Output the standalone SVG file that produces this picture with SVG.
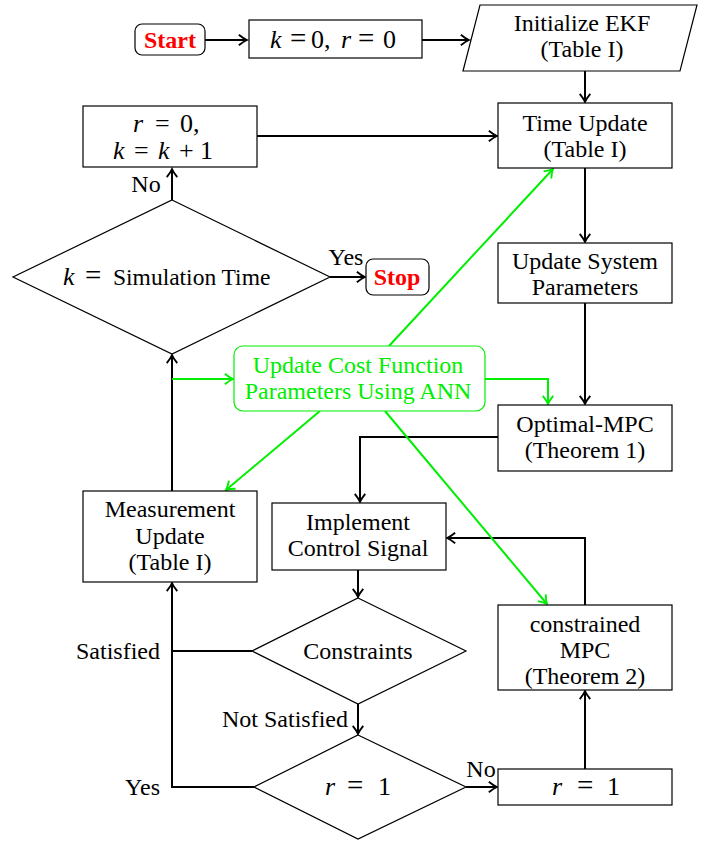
<svg xmlns="http://www.w3.org/2000/svg" width="715" height="842" viewBox="0 0 715 842">
<style>
.box{fill:#fff;stroke:#000;stroke-width:1.2}
.gbox{fill:#fff;stroke:#00ee00;stroke-width:1.2}
text{font-family:"Liberation Serif","Times New Roman",serif;font-size:24px;text-anchor:middle;fill:#000}
.mt{font-size:26px;text-anchor:start}
.m{font-style:italic}
.eq{font-size:29px}
.red{fill:#ff0000;font-weight:bold}
.grn{fill:#00ee00}
.lbl{text-anchor:end}
.c{fill:none;stroke:#000;stroke-width:2}
.g{fill:none;stroke:#00ee00;stroke-width:2}
</style>
<defs>
<marker id="ab" markerUnits="userSpaceOnUse" markerWidth="14" markerHeight="14" viewBox="-8 -6 10 12" refX="0" refY="0" orient="auto" overflow="visible">
<path d="M -7 -4.5 Q -3 -1.2 0 0 Q -3 1.2 -7 4.5" fill="none" stroke="#000" stroke-width="1.6"/>
</marker>
<marker id="ag" markerUnits="userSpaceOnUse" markerWidth="14" markerHeight="14" viewBox="-8 -6 10 12" refX="0" refY="0" orient="auto" overflow="visible">
<path d="M -7 -4.5 Q -3 -1.2 0 0 Q -3 1.2 -7 4.5" fill="none" stroke="#00ee00" stroke-width="1.6"/>
</marker>
</defs>
<rect width="715" height="842" fill="#fff"/>

<g id="connectors">
<line class="c" x1="205" y1="40" x2="247" y2="40" marker-end="url(#ab)"/>
<line class="c" x1="422" y1="40" x2="469" y2="40" marker-end="url(#ab)"/>
<line class="c" x1="585" y1="71" x2="585" y2="102" marker-end="url(#ab)"/>
<line class="c" x1="585" y1="168" x2="585" y2="242" marker-end="url(#ab)"/>
<line class="c" x1="585" y1="303" x2="585" y2="404" marker-end="url(#ab)"/>
<line class="c" x1="257" y1="136" x2="497" y2="136" marker-end="url(#ab)"/>
<line class="c" x1="172" y1="200" x2="172" y2="169" marker-end="url(#ab)"/>
<line class="c" x1="330" y1="277" x2="365" y2="277" marker-end="url(#ab)"/>
<line class="c" x1="172" y1="491" x2="172" y2="355" marker-end="url(#ab)"/>
<polyline class="c" points="498,437 360,437 360,502" marker-end="url(#ab)"/>
<line class="c" x1="358" y1="570" x2="358" y2="597" marker-end="url(#ab)"/>
<line class="c" x1="358" y1="704" x2="358" y2="734" marker-end="url(#ab)"/>
<line class="c" x1="466" y1="787" x2="497" y2="787" marker-end="url(#ab)"/>
<line class="c" x1="585" y1="769" x2="585" y2="691" marker-end="url(#ab)"/>
<polyline class="c" points="585,605 585,538 447,538" marker-end="url(#ab)"/>
<polyline class="c" points="252,651 172,651 172,583" marker-end="url(#ab)"/>
<polyline class="c" points="254,787 172,787 172,651"/>
<line class="g" x1="172" y1="379" x2="233" y2="379" marker-end="url(#ag)"/>
<polyline class="g" points="485,379 548,379 548,404" marker-end="url(#ag)"/>
<line class="g" x1="389" y1="346" x2="553" y2="169" marker-end="url(#ag)"/>
<line class="g" x1="320" y1="411" x2="226" y2="490" marker-end="url(#ag)"/>
<line class="g" x1="385" y1="411" x2="547" y2="604" marker-end="url(#ag)"/>
<text x="346" y="265">Yes</text>
<text x="146" y="192">No</text>
<text class="lbl" x="160" y="659">Satisfied</text>
<text class="lbl" x="348" y="727">Not Satisfied</text>
<text class="lbl" x="160" y="795">Yes</text>
<text x="481" y="777">No</text>
</g>

<g id="start">
<rect class="box" x="135" y="24" width="70" height="31" rx="7"/>
<text class="red" x="170" y="48">Start</text>
</g>
<g id="init">
<rect class="box" x="249" y="20" width="173" height="38"/>
<text class="mt" y="48"><tspan class="m" x="270">k</tspan><tspan class="eq" x="290">=</tspan><tspan x="311">0,</tspan><tspan class="m" x="341">r</tspan><tspan class="eq" x="358">=</tspan><tspan x="383">0</tspan></text>
</g>
<g id="ekf">
<polygon class="box" points="480,5 697,5 680,71 463,71"/>
<text x="582" y="31">Initialize EKF</text>
<text x="582" y="57">(Table I)</text>
</g>
<g id="timeupdate">
<rect class="box" x="498" y="103" width="174" height="65"/>
<text x="585" y="131">Time Update</text>
<text x="585" y="157">(Table I)</text>
</g>
<g id="sysparams">
<rect class="box" x="498" y="243" width="174" height="60"/>
<text x="585" y="269">Update System</text>
<text x="585" y="295">Parameters</text>
</g>
<g id="optmpc">
<rect class="box" x="498" y="405" width="174" height="66"/>
<text x="585" y="432">Optimal-MPC</text>
<text x="585" y="458">(Theorem 1)</text>
</g>
<g id="implement">
<rect class="box" x="272" y="503" width="174" height="67"/>
<text x="358" y="530">Implement</text>
<text x="358" y="556">Control Signal</text>
</g>
<g id="constraints">
<polygon class="box" points="358,598 466,651 358,704 252,651"/>
<text x="358" y="659">Constraints</text>
</g>
<g id="rdecision">
<polygon class="box" points="358,735 466,787 358,839 254,787"/>
<text class="mt" y="795"><tspan class="m" x="325">r</tspan><tspan class="eq" x="347">=</tspan><tspan x="378">1</tspan></text>
</g>
<g id="rset">
<rect class="box" x="498" y="769" width="174" height="36"/>
<text class="mt" y="795"><tspan class="m" x="552">r</tspan><tspan class="eq" x="577">=</tspan><tspan x="607">1</tspan></text>
</g>
<g id="cmpc">
<rect class="box" x="498" y="605" width="174" height="85"/>
<text x="585" y="632">constrained</text>
<text x="585" y="658">MPC</text>
<text x="585" y="684">(Theorem 2)</text>
</g>
<g id="measurement">
<rect class="box" x="83" y="491" width="174" height="91"/>
<text x="170" y="517">Measurement</text>
<text x="170" y="544">Update</text>
<text x="170" y="570">(Table I)</text>
</g>
<g id="simtime">
<polygon class="box" points="172,200 330,277 172,354 13,277"/>
<text class="mt" y="285"><tspan class="m" x="63">k</tspan><tspan class="eq" x="85">=</tspan><tspan x="113" style="font-size:23.5px">Simulation Time</tspan></text>
</g>
<g id="stop">
<rect class="box" x="366" y="259" width="63" height="36" rx="7"/>
<text class="red" x="397" y="285">Stop</text>
</g>
<g id="reset">
<rect class="box" x="83" y="106" width="174" height="61"/>
<text class="mt" y="132"><tspan class="m" x="133">r</tspan><tspan x="155">=</tspan><tspan x="180">0,</tspan></text>
<text class="mt" y="159"><tspan class="m" x="113">k</tspan><tspan x="134">=</tspan><tspan class="m" x="158">k</tspan><tspan x="179">+</tspan><tspan x="200">1</tspan></text>
</g>
<g id="ann">
<rect class="gbox" x="234" y="346" width="251" height="65" rx="9"/>
<text class="grn" x="358" y="373">Update Cost Function</text>
<text class="grn" x="358" y="399">Parameters Using ANN</text>
</g>
</svg>
